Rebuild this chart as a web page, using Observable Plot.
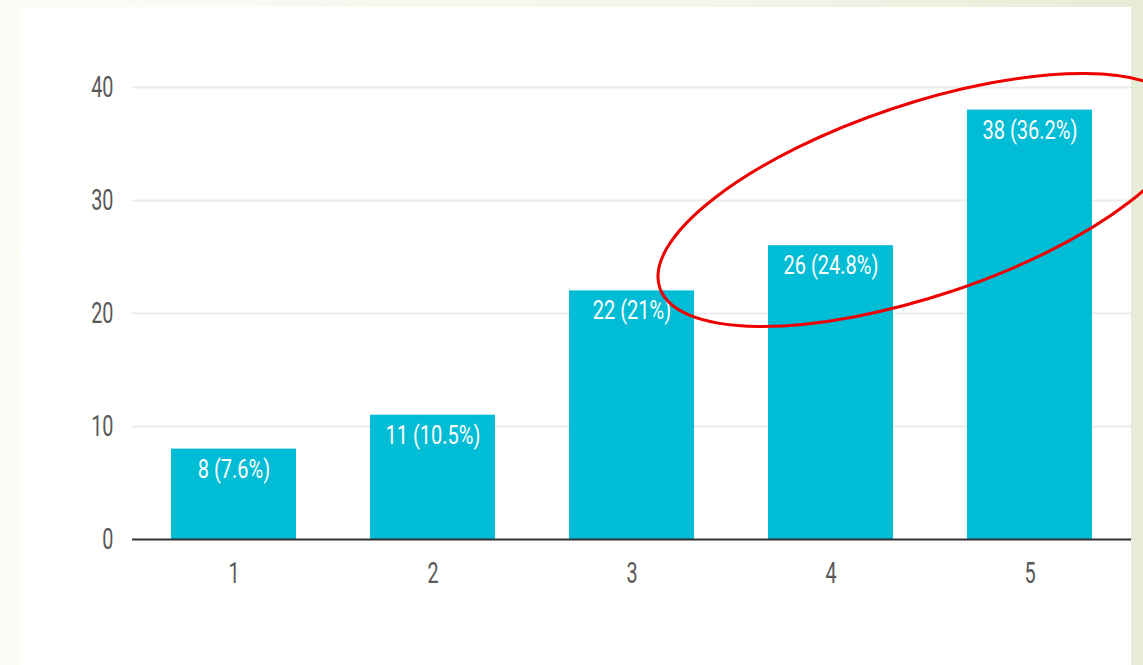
<!DOCTYPE html>
<html>
<head>
<meta charset="utf-8">
<script src="https://cdn.jsdelivr.net/npm/d3@7"></script>
<script src="https://cdn.jsdelivr.net/npm/@observablehq/plot@0.6"></script>
<style>
  html, body { margin: 0; padding: 0; width: 1143px; height: 665px; overflow: hidden; }
  body { background: linear-gradient(to right, #fbfcf5 0%, #f4f6ea 60%, #e7ecd6 100%); position: relative; }
  #panel { position: absolute; left: 20px; top: 7px; width: 1111px; height: 658px; background: #ffffff; }
  #chart { position: absolute; left: 0; top: 0; }
</style>
</head>
<body>
<div id="panel"></div>
<div id="chart"></div>
<script>
// Data
const categories = ["1", "2", "3", "4", "5"];
const counts = [8, 11, 22, 26, 38];
const percents = ["7.6%", "10.5%", "21%", "24.8%", "36.2%"];
const yTicks = [0, 10, 20, 30, 40];
// Annotation: red ellipse around the two highest ratings
const highlighted = ["4", "5"];
const highlightLevel = 30;

const rows = categories.map((c, i) => ({
  rating: c,
  count: counts[i],
  label: `${counts[i]} (${percents[i]})`
}));

const barColor = "#00bcd4";

const plot = Plot.plot({
  width: 1143,
  height: 665,
  marginLeft: 132,
  marginRight: 12,
  marginTop: 87,
  marginBottom: 126,
  style: { background: "transparent", fontFamily: "Roboto, 'Liberation Sans', sans-serif", fontSize: "30px", color: "#585858" },
  x: { domain: categories, paddingInner: 0.373, paddingOuter: 0.19, tickSize: 0, tickPadding: 22, label: null },
  y: { domain: [0, 40], ticks: yTicks, tickSize: 0, tickPadding: 19, label: null },
  marks: [
    Plot.ruleY(yTicks.filter(d => d > 0), { stroke: "#ebebeb", strokeWidth: 2 }),
    Plot.barY(rows, { x: "rating", y: "count", fill: barColor }),
    Plot.ruleY([0], { stroke: "#333", strokeWidth: 2 }),
    Plot.text(rows, { x: "rating", y: "count", text: "label", fill: "white", fontSize: 26, lineAnchor: "top", dy: 10, className: "barlabel" })
  ]
});

// Condensed look of the original's text
d3.select(plot).selectAll("text").each(function () {
  const inLabel = this.closest(".barlabel") !== null;
  const t = this.getAttribute("transform") || "";
  this.setAttribute("transform", t + (inLabel ? " scale(0.77,1)" : " scale(0.66,1)"));
});

// Red ellipse annotation positioned from the scales
const xs = plot.scale("x");
const ys = plot.scale("y");
const c0 = xs.apply(highlighted[0]) + xs.bandwidth / 2;
const c1 = xs.apply(highlighted[1]) + xs.bandwidth / 2;
const step = c1 - c0;
const cx = c0 + 0.46 * step;
const cy = ys.apply(highlightLevel);
d3.select(plot).append("ellipse")
  .attr("cx", cx).attr("cy", cy)
  .attr("rx", 1.39 * step).attr("ry", 96)
  .attr("transform", `rotate(-18.5, ${cx}, ${cy})`)
  .attr("fill", "none").attr("stroke", "#ee0000").attr("stroke-width", 3);
d3.select(plot).style("overflow", "visible");

document.getElementById("chart").appendChild(plot);
</script>
</body>
</html>
